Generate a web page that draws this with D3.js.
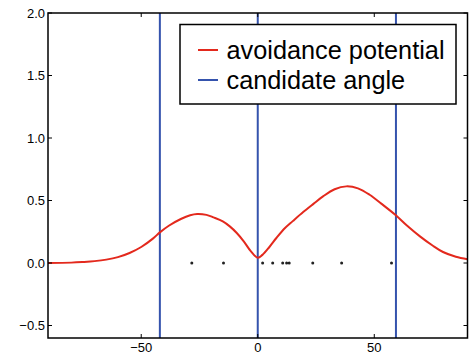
<!DOCTYPE html>
<html>
<head>
<meta charset="utf-8">
<script src="https://cdn.jsdelivr.net/npm/d3@7"></script>
<style>
  body { margin: 0; background: #fff; }
  svg { display: block; font-family: "Liberation Sans", Arial, sans-serif; }
</style>
</head>
<body>
<div id="chart"></div>
<script>
// avoidance potential curve
const angle = [-90, -80, -75, -70, -65, -60, -55, -50, -45, -42, -38, -33, -29, -26, -22, -19, -15, -12, -9, -6, -3, 0, 2, 5, 8, 11.7, 15, 19.5, 24, 28, 33, 38, 43, 48, 53, 59, 64, 69.6, 75, 79.5, 85, 90];
const potential = [0.0, 0.003, 0.008, 0.015, 0.027, 0.047, 0.08, 0.128, 0.195, 0.245, 0.3, 0.352, 0.382, 0.392, 0.385, 0.365, 0.333, 0.293, 0.24, 0.173, 0.095, 0.042, 0.065, 0.128, 0.2, 0.28, 0.335, 0.408, 0.475, 0.533, 0.59, 0.613, 0.597, 0.546, 0.475, 0.386, 0.3, 0.213, 0.14, 0.088, 0.05, 0.03];
const candidate_angles = [-42, 0, 59.3];
const obstacle_angles = [-28.3, -14.7, 2.1, 6.4, 10.7, 12.4, 13.5, 23.6, 36, 57.4];
const x_ticks = [-50, 0, 50];
const y_ticks = [-0.5, 0.0, 0.5, 1.0, 1.5, 2.0];
const legend_labels = ["avoidance potential", "candidate angle"];

const width = 472, height = 355;
const margin = {top: 13, right: 4.5, bottom: 17, left: 48};
const red = "#e3291d", blue = "#3553ad";

const svg = d3.select("#chart").append("svg")
  .attr("width", width)
  .attr("height", height);

const x = d3.scaleLinear().domain([-90, 90]).range([margin.left, width - margin.right]);
const y = d3.scaleLinear().domain([-0.6, 2.0]).range([height - margin.bottom, margin.top]);

const plot = svg.append("g");

// candidate angle lines
plot.selectAll(".cand")
  .data(candidate_angles)
  .enter()
  .append("line")
  .attr("x1", d => x(d)).attr("x2", d => x(d))
  .attr("y1", y(-0.6)).attr("y2", y(2.0))
  .attr("stroke", blue)
  .attr("stroke-width", 2);

// potential curve
const pts = angle.map((a, i) => [a, potential[i]]);
const line = d3.line()
  .x(d => x(d[0]))
  .y(d => y(d[1]))
  .curve(d3.curveCatmullRom);

plot.append("path")
  .datum(pts)
  .attr("d", line)
  .attr("fill", "none")
  .attr("stroke", red)
  .attr("stroke-width", 2);

// obstacle dots
plot.selectAll(".obs")
  .data(obstacle_angles)
  .enter()
  .append("circle")
  .attr("cx", d => x(d))
  .attr("cy", y(0))
  .attr("r", 1.5)
  .attr("fill", "#222");

// axes, ticks inward on all four sides
const tickLen = 4;
const fmt = d3.format(".1f");

const axes = svg.append("g");
x_ticks.forEach(t => {
  axes.append("line")
    .attr("x1", x(t)).attr("x2", x(t))
    .attr("y1", y(-0.6)).attr("y2", y(-0.6) - tickLen)
    .attr("stroke", "#000");
  axes.append("line")
    .attr("x1", x(t)).attr("x2", x(t))
    .attr("y1", y(2.0)).attr("y2", y(2.0) + tickLen)
    .attr("stroke", "#000");
  axes.append("text")
    .attr("x", x(t))
    .attr("y", y(-0.6) + 14)
    .attr("text-anchor", "middle")
    .attr("font-size", 13)
    .text(t < 0 ? "\u2212" + Math.abs(t) : t);
});

y_ticks.forEach(t => {
  axes.append("line")
    .attr("x1", x(-90)).attr("x2", x(-90) + tickLen)
    .attr("y1", y(t)).attr("y2", y(t))
    .attr("stroke", "#000");
  axes.append("line")
    .attr("x1", x(90)).attr("x2", x(90) - tickLen)
    .attr("y1", y(t)).attr("y2", y(t))
    .attr("stroke", "#000");
  axes.append("text")
    .attr("x", x(-90) - 3)
    .attr("y", y(t))
    .attr("dy", "0.35em")
    .attr("text-anchor", "end")
    .attr("font-size", 13)
    .text(t < 0 ? "\u2212" + fmt(Math.abs(t)) : fmt(t));
});

axes.append("rect")
  .attr("x", x(-90)).attr("y", y(2.0))
  .attr("width", x(90) - x(-90))
  .attr("height", y(-0.6) - y(2.0))
  .attr("fill", "none")
  .attr("stroke", "#000")
  .attr("stroke-width", 1.5);

// legend
const legend = svg.append("g").attr("transform", "translate(180,24.5)");
legend.append("rect")
  .attr("width", 276).attr("height", 79.5)
  .attr("fill", "#fff")
  .attr("stroke", "#000")
  .attr("stroke-width", 1.5);

[red, blue].forEach((c, i) => {
  legend.append("line")
    .attr("x1", 18).attr("x2", 38)
    .attr("y1", 25.5 + i * 30).attr("y2", 25.5 + i * 30)
    .attr("stroke", c)
    .attr("stroke-width", 2);
  legend.append("text")
    .attr("x", 46.5)
    .attr("y", 34.5 + i * 30)
    .attr("font-size", 25.3)
    .text(legend_labels[i]);
});
</script>
</body>
</html>
